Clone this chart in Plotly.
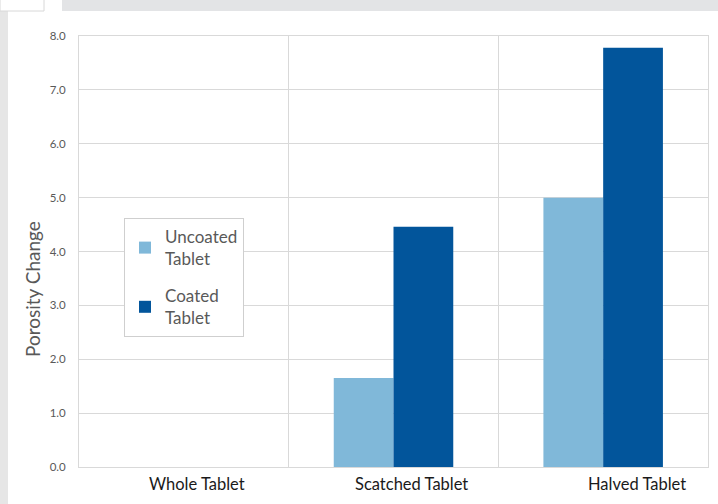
import plotly.graph_objects as go

categories = ["Whole Tablet", "Scatched Tablet", "Halved Tablet"]
uncoated = [0.0, 1.65, 5.0]
coated = [0.0, 4.46, 7.78]
series_names = ["Uncoated<br>Tablet", "Coated<br>Tablet"]
y_ticks = [0, 1, 2, 3, 4, 5, 6, 7, 8]
y_ticklabels = [f"{v:.1f}" for v in y_ticks]

W, H = 718, 504
L, R, T, B = 79, 10, 36, 37
pw, ph = W - L - R, H - T - B

FONT = "Lato, 'Open Sans', sans-serif"
GRID = "#d9d9d9"
TXT = "#595959"

fig = go.Figure()
fig.add_trace(go.Bar(x=categories, y=uncoated, name=series_names[0],
                     marker=dict(color="#80b8d9", line=dict(width=0)),
                     legendgroup="a"))
fig.add_trace(go.Bar(x=categories, y=coated, name=series_names[1],
                     marker=dict(color="#02559b", line=dict(width=0)),
                     legendgroup="b"))

xshifts = [13, 18, 34]
annotations = []
for c, s in zip(categories, xshifts):
    annotations.append(dict(x=c, y=0, xref="x", yref="y", text=c, showarrow=False,
                            xshift=s, yshift=-17, yanchor="middle",
                            font=dict(family=FONT, size=16.5, color="#1a1a1a")))
annotations.append(dict(x=(32 - L) / pw, y=(H - B - 289) / ph, xref="paper", yref="paper",
                        text="Porosity Change", showarrow=False, textangle=-90,
                        xanchor="center", yanchor="middle",
                        font=dict(family=FONT, size=19, color=TXT)))

shapes = [
    dict(type="rect", xref="paper", yref="paper",
         x0=(62 - L) / pw, x1=(W - L) / pw, y0=(H - B - 11) / ph, y1=(H - B) / ph + T / ph,
         fillcolor="#e3e4e6", line=dict(width=0), layer="below"),
    dict(type="rect", xref="paper", yref="paper",
         x0=(0 - L) / pw, x1=(8 - L) / pw, y0=-B / ph, y1=(H - B - 11) / ph,
         fillcolor="#e6e6e6", line=dict(width=0), layer="below"),
    dict(type="rect", xref="paper", yref="paper",
         x0=(0 - L) / pw, x1=(44 - L) / pw, y0=(H - B - 11) / ph, y1=(H - B) / ph + T / ph,
         fillcolor="#ffffff", line=dict(color="#d8d8d8", width=1), layer="below"),
]

fig.update_layout(
    width=W, height=H,
    margin=dict(l=L, r=R, t=T, b=B, pad=0),
    paper_bgcolor="white", plot_bgcolor="white",
    barmode="group", bargap=0.43, bargroupgap=0,
    showlegend=True,
    legend=dict(x=(124 - L) / pw, y=(H - B - 218) / ph, xanchor="left", yanchor="top",
                bgcolor="white", bordercolor="#cfcfcf", borderwidth=1,
                font=dict(family=FONT, size=17, color=TXT),
                tracegroupgap=12, itemwidth=30, traceorder="grouped"),
    xaxis=dict(type="category", tickson="boundaries", showgrid=True, gridcolor=GRID,
               gridwidth=1, showline=True, linecolor=GRID, mirror=True,
               showticklabels=False, ticks=""),
    yaxis=dict(range=[0, 8], tickvals=y_ticks, ticktext=y_ticklabels, showgrid=True,
               gridcolor=GRID, gridwidth=1, showline=True, linecolor=GRID, mirror=True,
               zeroline=False, ticks="", ticklabelstandoff=10,
               tickfont=dict(family=FONT, size=11.5, color=TXT)),
    annotations=annotations,
    shapes=shapes,
    font=dict(family=FONT),
)

fig.write_html("out.html")
